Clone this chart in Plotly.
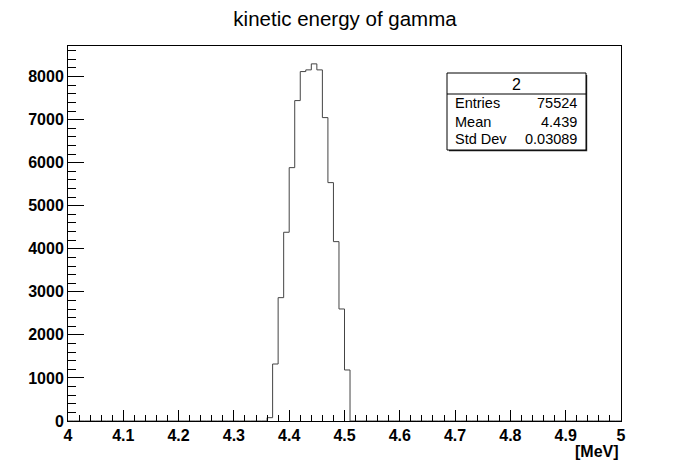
import plotly.graph_objects as go

# ---- data ----
x_min, x_max, bin_width = 4.0, 5.0, 0.01
bin_starts = [4.36, 4.37, 4.38, 4.39, 4.40, 4.41, 4.42, 4.43, 4.44, 4.45,
              4.46, 4.47, 4.48, 4.49, 4.50]
counts = [77, 1324, 2865, 4384, 5885, 7442, 8116, 8155, 8295, 8155,
          7047, 5537, 4166, 2602, 1185]
x_ticks = [4.0, 4.1, 4.2, 4.3, 4.4, 4.5, 4.6, 4.7, 4.8, 4.9, 5.0]
x_tick_labels = ["4", "4.1", "4.2", "4.3", "4.4", "4.5", "4.6", "4.7", "4.8", "4.9", "5"]
y_ticks = [0, 1000, 2000, 3000, 4000, 5000, 6000, 7000, 8000]
title = "kinetic energy of gamma"
x_unit = "[MeV]"
stats_name = "2"
stats_rows = [("Entries", "75524"), ("Mean", "4.439"), ("Std Dev", "0.03089")]
y_max = 8710

# ---- build full step outline ----
n_bins = int(round((x_max - x_min) / bin_width))
full = [0.0] * n_bins
for s, c in zip(bin_starts, counts):
    full[int(round((s - x_min) / bin_width))] = c
edges = [x_min + i * bin_width for i in range(n_bins + 1)]
ys = full + [full[-1]]

FONT = "Liberation Sans, Arial, Helvetica, sans-serif"

fig = go.Figure()
fig.add_trace(go.Scatter(x=edges, y=ys, mode="lines", line_shape="hv",
                         line=dict(color="#444444", width=1), hoverinfo="skip",
                         showlegend=False))

fig.update_layout(
    width=690, height=469,
    margin=dict(l=68, r=69, t=46, b=48),
    paper_bgcolor="white", plot_bgcolor="white",
    showlegend=False,
    title=dict(text=title, x=0.5, xanchor="center", y=1 - 19 / 469, yanchor="middle",
               font=dict(family=FONT, size=20.5, color="black")),
)

fig.update_xaxes(
    range=[x_min, x_max], showgrid=False, zeroline=False,
    showline=True, linecolor="black", linewidth=1, mirror=True,
    tickmode="array", tickvals=x_ticks, ticktext=x_tick_labels,
    ticks="inside", ticklen=11, tickcolor="black", tickwidth=1,
    minor=dict(dtick=0.02, tick0=4.0, ticks="inside", ticklen=6, tickcolor="black", tickwidth=1,
               showgrid=False),
    tickfont=dict(family=FONT, size=16, color="black", weight="bold"),
)
fig.update_yaxes(
    range=[0, y_max], showgrid=False, zeroline=False,
    showline=True, linecolor="black", linewidth=1, mirror=True,
    tickmode="array", tickvals=y_ticks,
    ticks="inside", ticklen=16, tickcolor="black", tickwidth=1,
    minor=dict(dtick=200, tick0=0, ticks="inside", ticklen=8, tickcolor="black", tickwidth=1,
               showgrid=False),
    tickfont=dict(family=FONT, size=16, color="black", weight="bold"),
)

# unit label
fig.add_annotation(text=x_unit, xref="paper", yref="paper", x=1.0, y=0,
                   xanchor="right", yanchor="middle", yshift=-30, showarrow=False,
                   font=dict(family=FONT, size=16, color="black", weight="bold"))

# ---- stats box (pixel -> paper helpers) ----
PL, PR, PT, PB = 68, 621, 46, 421
def px(xp): return (xp - PL) / (PR - PL)
def py(yp): return (PB - yp) / (PB - PT)

bx0, bx1, by0, by1, bhead = 447, 586, 73, 150, 94
fig.add_shape(type="rect", xref="paper", yref="paper",
              x0=px(bx0 + 2), x1=px(bx1 + 1.2), y0=py(by1 + 1.2), y1=py(by0 + 2),
              fillcolor="#222222", line=dict(width=0), layer="above")
fig.add_shape(type="rect", xref="paper", yref="paper",
              x0=px(bx0), x1=px(bx1), y0=py(by1), y1=py(by0),
              fillcolor="white", line=dict(color="black", width=1), layer="above")
fig.add_shape(type="line", xref="paper", yref="paper",
              x0=px(bx0), x1=px(bx1), y0=py(bhead), y1=py(bhead),
              line=dict(color="black", width=1), layer="above")
fig.add_annotation(text=stats_name, xref="paper", yref="paper",
                   x=px((bx0 + bx1) / 2), y=py(84), xanchor="center", yanchor="middle",
                   showarrow=False, font=dict(family=FONT, size=16, color="black"))
row_y = [103, 121.5, 139]
for (lab, val), ry in zip(stats_rows, row_y):
    fig.add_annotation(text=lab, xref="paper", yref="paper", x=px(453), y=py(ry),
                       xanchor="left", yanchor="middle", showarrow=False,
                       font=dict(family=FONT, size=14.5, color="black"))
    fig.add_annotation(text=val, xref="paper", yref="paper", x=px(579), y=py(ry),
                       xanchor="right", yanchor="middle", showarrow=False,
                       font=dict(family=FONT, size=14.5, color="black"))

fig.write_html("out.html")
